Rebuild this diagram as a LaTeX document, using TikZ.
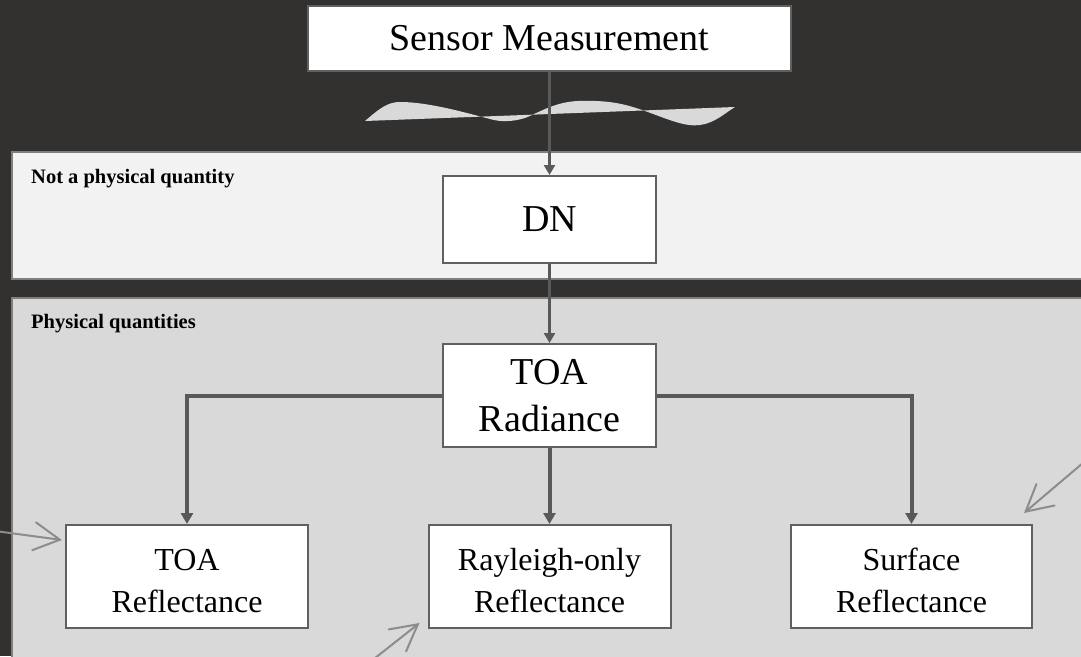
\documentclass[tikz,border=0pt]{standalone}
\usepackage{fontspec}
\setmainfont{Liberation Serif}
\usetikzlibrary{arrows.meta,calc}
\definecolor{bgdark}{HTML}{333130}
\definecolor{bandone}{HTML}{F2F2F2}
\definecolor{bandtwo}{HTML}{D9D9D9}
\definecolor{bandedge}{HTML}{7F7F7F}
\definecolor{boxedge}{HTML}{606060}
\definecolor{conn}{HTML}{595959}
\definecolor{pointer}{HTML}{8C8C8C}
\definecolor{wavefill}{HTML}{D9D9D9}
\newcommand{\topgap}{\rule{0pt}{31pt}}
\begin{document}
\begin{tikzpicture}[x=1pt,y=-1pt,
  stepbox/.style={draw=boxedge, line width=2pt, fill=white, inner sep=0pt, align=center},
  bigtext/.style={font=\fontsize{38}{47}\selectfont},
  smalltext/.style={font=\fontsize{32}{42}\selectfont},
  bandlabel/.style={font=\fontsize{20.5}{24}\selectfont\bfseries, anchor=base west, inner sep=0pt},
  thinconn/.style={draw=conn, line width=2.5pt, -{Triangle[length=10pt,width=11pt]}},
  thickconn/.style={draw=conn, line width=4pt, -{Triangle[length=11pt,width=12pt]}},
  pointerarrow/.style={draw=pointer, line width=2pt, line cap=round, -{Straight Barb[length=26pt,width=28pt,line cap=round]}}
]
\useasboundingbox[fill=bgdark] (0,0) rectangle (1081,656);

% bands
\path[fill=bandone, draw=bandedge, line width=2pt] (12,152) rectangle (1095,279);
\path[fill=bandtwo, draw=bandedge, line width=2pt] (12,298) rectangle (1095,670);
\node[bandlabel] (lab1) at (31,183) {Not a physical quantity};
\node[bandlabel] (lab2) at (31,328) {Physical quantities};

% wave
\path[fill=wavefill] (365,121) .. controls (380,108) and (388,102) .. (400,102)
  .. controls (430,102) and (470,114) .. (490,119)
  .. controls (500,122) and (512,122) .. (525,118)
  .. controls (540,112) and (555,102) .. (578,101)
  .. controls (610,100) and (625,104) .. (645,111)
  .. controls (670,120) and (685,127) .. (700,125)
  .. controls (715,123) and (725,113) .. (735,107) -- cycle;

% boxes
\node[stepbox, bigtext, minimum width=483pt, minimum height=65pt] (sensor) at (549.5,38.5) {Sensor Measurement};
\node[stepbox, bigtext, minimum width=213pt, minimum height=87pt] (dn) at (549.5,219.5) {DN};
\node[stepbox, bigtext, minimum width=213pt, minimum height=103pt] (rad) at (549.5,395.5) {TOA\\Radiance};
\node[stepbox, smalltext, minimum width=242pt, minimum height=103pt] (trefl) at (187,576.5) {\topgap TOA\\Reflectance};
\node[stepbox, smalltext, minimum width=242pt, minimum height=103pt] (ray) at (549.5,576.5) {\topgap Rayleigh-only\\Reflectance};
\node[stepbox, smalltext, minimum width=241pt, minimum height=103pt] (srefl) at (911.5,576.5) {\topgap Surface\\Reflectance};

% connectors
\draw[thinconn] (sensor.south) -- (dn.north);
\draw[thinconn] (dn.south) -- (rad.north);
\draw[thickconn] (rad.west) -| (trefl.north);
\draw[thickconn] (rad.south) -- (ray.north);
\draw[thickconn] (rad.east) -| (srefl.north);

% pointer arrows
\coordinate (pl) at (-5,531);
\coordinate (pb) at (370,662);
\coordinate (pr) at (1090,457);
\draw[pointerarrow] (pl) -- ($(trefl.north west)+(-3,16)$);
\draw[pointerarrow] (pb) -- ($(ray.south west)+(-8,-6)$);
\draw[pointerarrow] (pr) -- ($(srefl.north east)+(-9,-11)$);
\end{tikzpicture}
\end{document}
